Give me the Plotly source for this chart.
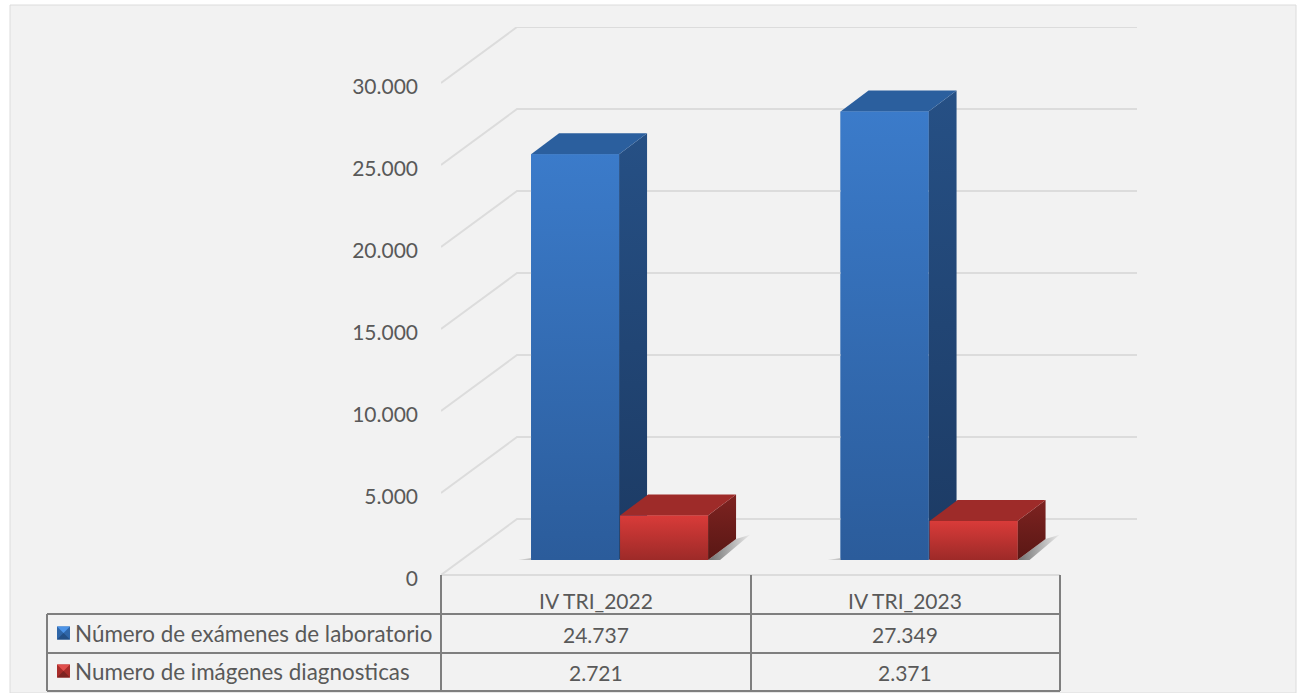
import plotly.graph_objects as go

categories = ["IV TRI_2022", "IV TRI_2023"]
series_names = ["Número de exámenes de laboratorio", "Numero de imágenes diagnosticas"]
lab_values = [24737, 27349]
img_values = [2721, 2371]
tick_values = [0, 5000, 10000, 15000, 20000, 25000, 30000]
tick_labels = ["0", "5.000", "10.000", "15.000", "20.000", "25.000", "30.000"]

W, H = 1297, 693
X0, CAT_W, Y0, PX_PER_UNIT = 441, 309.5, 575, 82 / 5000
WALL_X, WALL_V = 76 / CAT_W, 56 / PX_PER_UNIT
DEPTH_X, DEPTH_V = 28 / CAT_W, 21 / PX_PER_UNIT
BASE_V = 15 / PX_PER_UNIT
BAR_W = 88 / CAT_W
OFFSETS = [-0.209, 0.0785]
X_MIN = -0.5
X_MAX = X_MIN + (1137 - X0) / CAT_W
V_MAX = (Y0 - 27) / PX_PER_UNIT
GRID = "#dcdcdc"
TXT = "#595959"
FONT = "Lato"

STYLES = [
    dict(base="#3570b8", front=["#2b5c9b", "#3b7bca"], top="#2b5f9e", side=["#1c3a63", "#265085"]),
    dict(base="#b83030", front=["#9d2a28", "#d93b39"], top="#9e2b29", side=["#591714", "#7e2321"]),
]

fig = go.Figure()


def poly(xs, ys, color=None, gradient=None, orient="vertical", edge=0):
    kw = dict(fillcolor=color) if color else dict(
        fillgradient=dict(type=orient, colorscale=[[0, gradient[0]], [1, gradient[1]]])
    )
    fig.add_trace(go.Scatter(x=xs + xs[:1], y=ys + ys[:1], mode="lines", fill="toself",
                             line=dict(width=edge, color=color or gradient[1]),
                             hoverinfo="skip", showlegend=False, **kw))


# walls and gridlines
for v in tick_values:
    fig.add_trace(go.Scatter(x=[X_MIN, X_MIN + WALL_X, X_MAX], y=[v, v + WALL_V, v + WALL_V],
                             mode="lines", line=dict(color=GRID, width=2),
                             hoverinfo="skip", showlegend=False))

# real bars, front faces
for s, (name, vals, off) in enumerate(zip(series_names, [lab_values, img_values], OFFSETS)):
    fig.add_trace(go.Bar(x=[0, 1], y=vals, base=[BASE_V] * 2, offset=off, width=BAR_W, name=name,
                         marker=dict(color=STYLES[s]["base"], line=dict(width=0)), showlegend=False))

# floor shadows and shading of the boxes
for c in range(2):
    xl = c + OFFSETS[0]
    xr = c + OFFSETS[1] + BAR_W
    b = BASE_V
    e = 13 / CAT_W
    poly([xl - e, xl + DEPTH_X, xl + DEPTH_X, xl], [b, b + DEPTH_V * .3, b, b],
         gradient=["#d8d8d8", "#8a8a8a"], orient="horizontal")
    poly([xr, xr + DEPTH_X, xr + DEPTH_X + 14 / CAT_W, xr + 12 / CAT_W],
         [b, b + DEPTH_V, b + DEPTH_V * 1.2, b],
         gradient=["#707070", "#e8e8e8"], orient="horizontal")
    for s, vals in enumerate([lab_values, img_values]):
        st = STYLES[s]
        x0 = c + OFFSETS[s]
        x1 = x0 + BAR_W
        top = b + vals[c]
        poly([x1, x1 + DEPTH_X, x1 + DEPTH_X, x1], [b, b + DEPTH_V, top + DEPTH_V, top], gradient=st["side"])
        poly([x0, x0 + DEPTH_X, x1 + DEPTH_X, x1], [top, top + DEPTH_V, top + DEPTH_V, top], color=st["top"])
        poly([x0, x1, x1, x0], [b, b, top, top], gradient=st["front"])


def px(x):
    return x / W


def py(y):
    return 1 - y / H


shapes = [dict(type="rect", xref="paper", yref="paper", x0=px(10), x1=px(1296), y0=py(5), y1=py(693),
               fillcolor="#f2f2f2", line=dict(color="#dcdcdc", width=1), layer="below")]


def seg(x0, y0, x1, y1, color="#7f7f7f", width=2):
    shapes.append(dict(type="line", xref="paper", yref="paper", x0=px(x0), x1=px(x1), y0=py(y0), y1=py(y1),
                       line=dict(color=color, width=width)))


ROWS = [575, 614, 653, 691]
COLS = [441, 751, 1060]
seg(441, 575, 1060, 575, GRID, 2)
seg(47, ROWS[1], 1060, ROWS[1])
seg(47, ROWS[2], 1060, ROWS[2])
seg(47, ROWS[3], 1060, ROWS[3])
seg(47, ROWS[1], 47, ROWS[3])
for cx in COLS:
    seg(cx, 575, cx, ROWS[3])

annotations = []


def text(t, x, y, anchor="center", size=21):
    annotations.append(dict(text=t, xref="paper", yref="paper", x=px(x), y=py(y), xanchor=anchor, yanchor="middle",
                            showarrow=False, font=dict(family=FONT, size=size, color=TXT)))


for i, cat in enumerate(categories):
    mid = (COLS[i] + COLS[i + 1]) / 2
    text(cat, mid, 600)
    text(f"{lab_values[i]:,}".replace(",", "."), mid, 634)
    text(f"{img_values[i]:,}".replace(",", "."), mid, 672)
KEYS = [("#4d94e8", "#2f66a8", "#234f85"), ("#e04f4c", "#a82c2a", "#7e2321")]
for name, y, key in zip(series_names, [633, 671], KEYS):
    text(name, 73, y, "left", size=22.4)
    l, r, t, b = px(57), px(70), py(y - 6.5), py(y + 6.5)
    mx, my = (l + r) / 2, (t + b) / 2
    shapes.append(dict(type="rect", xref="paper", yref="paper", x0=l, x1=r, y0=b, y1=t,
                       fillcolor=key[1], line=dict(width=0)))
    shapes.append(dict(type="path", xref="paper", yref="paper",
                       path=f"M{l},{t} L{r},{t} L{mx},{my} Z", fillcolor=key[0], line=dict(width=0)))
    shapes.append(dict(type="path", xref="paper", yref="paper",
                       path=f"M{l},{b} L{r},{b} L{mx},{my} Z", fillcolor=key[2], line=dict(width=0)))

fig.update_layout(
    width=W, height=H, margin=dict(l=0, r=0, t=0, b=0, autoexpand=False), paper_bgcolor="white",
    plot_bgcolor="rgba(0,0,0,0)",
    showlegend=False, shapes=shapes, annotations=annotations,
    font=dict(family=FONT, size=20, color=TXT),
    xaxis=dict(domain=[px(X0), px(1137)], range=[X_MIN, X_MAX], showgrid=False, zeroline=False,
               showticklabels=False, showline=False, ticks=""),
    yaxis=dict(domain=[py(Y0), py(27)], range=[0, V_MAX], showgrid=False, zeroline=False, showline=False,
               tickvals=tick_values, ticktext=tick_labels, ticks="", ticklabelstandoff=22, ticklabelshift=4,
               tickfont=dict(family=FONT, size=21, color=TXT)),
)

fig.write_html("out.html", config=dict(displayModeBar=False),
               post_script="document.body.style.margin='0';document.documentElement.style.overflow='hidden';")
